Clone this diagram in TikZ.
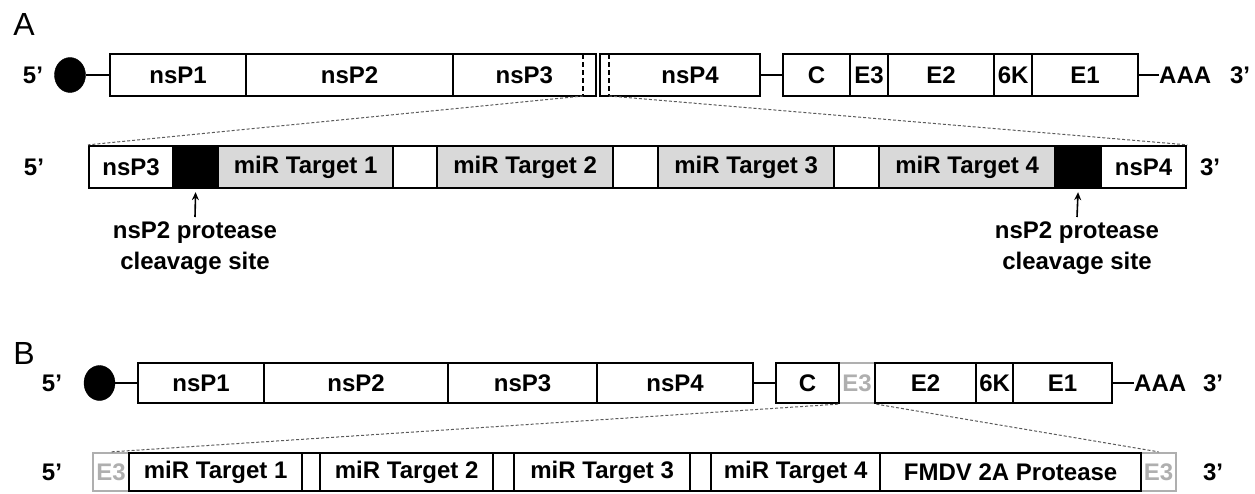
\documentclass[tikz,border=0pt]{standalone}
\usepackage{fontspec}
\setmainfont{Liberation Sans}
\usetikzlibrary{arrows.meta,shapes.geometric}
\definecolor{tgrey}{RGB}{217,217,217}
\definecolor{egrey}{RGB}{175,175,175}
\definecolor{zgrey}{RGB}{90,90,90}
\begin{document}
\begin{tikzpicture}[x=1pt,y=-1pt,
  lbl/.style={font=\fontsize{24}{31}\selectfont\bfseries, inner sep=0pt},
  seg/.style={draw, line width=2.3pt, inner sep=0pt, anchor=west, font=\fontsize{24}{26}\selectfont\bfseries},
  hA/.style={minimum height=42pt},
  hB/.style={minimum height=40pt},
  hC/.style={minimum height=38pt},
  tfill/.style={fill=tgrey},
  blk/.style={fill=black},
  ghost/.style={draw=egrey, text=egrey},
  capn/.style={ellipse, fill=black, draw=black, minimum width=31pt, minimum height=35pt, inner sep=0pt},
  wire/.style={line width=2pt},
  zoomline/.style={line width=1pt, draw=zgrey, dash pattern=on 3pt off 2pt},
  cutline/.style={line width=1.6pt, dash pattern=on 5pt off 3pt},
  pointer/.style={line width=1.6pt, -{Stealth[length=8pt,width=7pt]}, shorten >=3pt}
]
\useasboundingbox (0,0) rectangle (1255,493);

% ---------------- Panel A ----------------
\node[font=\fontsize{32}{34}\selectfont, inner sep=0pt] (lA) at (24,24) {A};

\node[lbl] (a5) at (33,75) {5’};
\node[capn] (acap) at (70,75) {};
\node[seg,hA,minimum width=136pt] (a1) at (109,75) {nsP1};
\node[seg,hA,minimum width=207pt] (a2) at (245,75) {nsP2};
\node[seg,hA,minimum width=142.5pt] (a3) at (452,75) {nsP3\hspace{12pt}};
\node[seg,hA,minimum width=160pt] (a4) at (599,75) {\hspace{20pt}nsP4};
\draw[cutline] (583,54) -- (583,96);
\draw[cutline] (609,54) -- (609,96);
\coordinate (za) at (583,96);
\coordinate (zb) at (609,96);
\node[seg,hA,minimum width=67pt] (ac) at (782,75) {C};
\node[seg,hA,minimum width=38pt] (ae3) at (849,75) {E3};
\node[seg,hA,minimum width=106pt] (ae2) at (887,75) {E2};
\node[seg,hA,minimum width=38pt] (ak) at (993,75) {6K};
\node[seg,hA,minimum width=106pt] (ae1) at (1031,75) {E1};
\node[lbl,anchor=west] (aA) at (1159,75) {AAA};
\node[lbl] (a3p) at (1240,75) {3’};
\draw[wire] (acap.east) -- (a1.west);
\draw[wire] (a4.east) -- (ac.west);
\draw[wire] (ae1.east) -- (aA.west);

% detail A
\node[lbl] (d5p) at (34,167) {5’};
\node[seg,hA,minimum width=84pt] (d1) at (88,167) {nsP3};
\node[seg,hA,blk,minimum width=45pt] (d2) at (172,167) {};
\node[seg,hA,tfill,minimum width=175pt] (d3) at (217,167) {miR Target 1};
\node[seg,hA,minimum width=44pt] (d4) at (392,167) {};
\node[seg,hA,tfill,minimum width=176pt] (d5) at (436,167) {miR Target 2};
\node[seg,hA,minimum width=45pt] (d6) at (612,167) {};
\node[seg,hA,tfill,minimum width=176pt] (d7) at (657,167) {miR Target 3};
\node[seg,hA,minimum width=45pt] (d8) at (833,167) {};
\node[seg,hA,tfill,minimum width=176pt] (d9) at (878,167) {miR Target 4};
\node[seg,hA,blk,minimum width=46pt] (d10) at (1054,167) {};
\node[seg,hA,minimum width=85pt] (d11) at (1100,167) {nsP4};
\node[lbl] (d3p) at (1210,167) {3’};
\draw[zoomline] (za) -- (d1.north west);
\draw[zoomline] (zb) -- (d11.north east);

\node[lbl,align=center,anchor=north] (cl1) at (195,222) {nsP2 protease\\cleavage site};
\node[lbl,align=center,anchor=north] (cl2) at (1077,222) {nsP2 protease\\cleavage site};
\draw[pointer] ([yshift=5pt]cl1.north) -- (d2.south);
\draw[pointer] ([yshift=5pt]cl2.north) -- (d10.south);

% ---------------- Panel B ----------------
\node[font=\fontsize{32}{34}\selectfont, inner sep=0pt] (lB) at (24,353) {B};

\node[lbl] (b5) at (52,383) {5’};
\node[capn] (bcap) at (99.5,383) {};
\node[seg,hB,minimum width=126pt] (b1) at (137,383) {nsP1};
\node[seg,hB,minimum width=184pt] (b2) at (263,383) {nsP2};
\node[seg,hB,minimum width=149pt] (b3) at (447,383) {nsP3};
\node[seg,hB,minimum width=156pt] (b4) at (596,383) {nsP4};
\node[seg,hB,ghost,minimum width=36pt] (be3) at (838,383) {E3};
\node[seg,hB,minimum width=63pt] (bc) at (775,383) {C};
\node[seg,hB,minimum width=101pt] (be2) at (874,383) {E2};
\node[seg,hB,minimum width=37pt] (bk) at (975,383) {6K};
\node[seg,hB,minimum width=99pt] (be1) at (1012,383) {E1};
\node[lbl,anchor=west] (bA) at (1134,383) {AAA};
\node[lbl] (b3p) at (1213,383) {3’};
\draw[wire] (bcap.east) -- (b1.west);
\draw[wire] (b4.east) -- (bc.west);
\draw[wire] (be1.east) -- (bA.west);

% detail B
\node[lbl] (f5p) at (52,472) {5’};
\node[seg,hC,ghost,minimum width=36pt] (f1) at (92,472) {E3};
\node[seg,hC,ghost,minimum width=35pt] (f10) at (1140,472) {E3};
\node[seg,hC,minimum width=173pt] (f2) at (128,472) {miR Target 1};
\node[seg,hC,minimum width=18pt] (f3) at (301,472) {};
\node[seg,hC,minimum width=173pt] (f4) at (319,472) {miR Target 2};
\node[seg,hC,minimum width=21pt] (f5) at (492,472) {};
\node[seg,hC,minimum width=176pt] (f6) at (513,472) {miR Target 3};
\node[seg,hC,minimum width=21pt] (f7) at (689,472) {};
\node[seg,hC,minimum width=169pt] (f8) at (710,472) {miR Target 4};
\node[seg,hC,minimum width=261pt] (f9) at (879,472) {FMDV 2A Protease};
\node[lbl] (f3p) at (1213,472) {3’};
\draw[zoomline] (be3.south west) -- (f1.north);
\draw[zoomline] (be3.south east) -- (f10.north);
\end{tikzpicture}
\end{document}
